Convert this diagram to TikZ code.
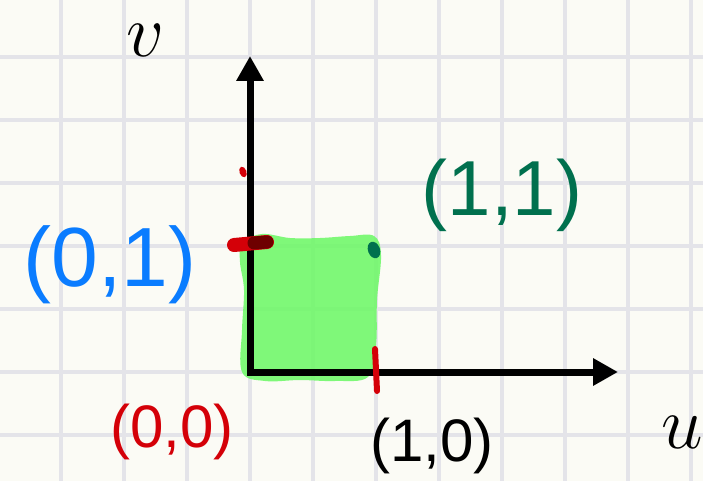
\documentclass[tikz,border=0pt]{standalone}
\usepackage{fontspec}
\usetikzlibrary{arrows.meta}
\newfontfamily\handfont{Liberation Sans}
\definecolor{paper}{HTML}{FBFBF5}
\definecolor{gridc}{HTML}{E4E4E9}
\definecolor{blobc}{RGB}{106,248,100}
\definecolor{hblue}{HTML}{0A7CFF}
\definecolor{hred}{HTML}{D40008}
\definecolor{hdred}{HTML}{6E0000}
\definecolor{hgreen}{HTML}{00704E}
\tikzset{
  gridline/.style={draw=gridc, line width=3.2pt},
  axisline/.style={line width=7pt, line join=miter, {Triangle[width=26pt,length=25pt]}-{Triangle[width=26pt,length=25pt]}},
  hand/.style={font=\handfont\fontsize{#1}{#1}\selectfont, inner sep=0pt},
  axlabel/.style={font=\fontsize{24.88}{30}\selectfont, scale=3.0, inner sep=0pt},
  penstroke/.style={line cap=round},
}
\begin{document}
\begin{tikzpicture}[x=1pt,y=-1pt]
\useasboundingbox (0,0) rectangle (703,481);
\fill[paper] (0,0) rectangle (703,481);
% grid
\foreach \k in {-4,...,7} \draw[gridline] ({250+63*\k},0) -- ({250+63*\k},481);
\foreach \k in {-6,...,2} \draw[gridline] (0,{372+63*\k}) -- (703,{372+63*\k});
% green blob
\fill[blobc, fill opacity=0.85] plot[smooth cycle, tension=0.6] coordinates {
 (242,243) (262,234) (290,238) (320,238) (350,236) (374,236) (381,255)
 (377,300) (376,345) (368,377) (335,381) (300,380) (265,381) (242,372)
 (242,330) (244,290) (240,262)};
% axes
\coordinate (O) at (250,372);
\coordinate (vtop) at (250,56);
\coordinate (uend) at (618,372);
\draw[axisline] (vtop) -- (O) -- (uend);
% red marks
\coordinate (m1a) at (234,245);
\coordinate (m1b) at (267,242);
\coordinate (m1c) at (254,243);
\draw[penstroke, hred, line width=14pt] (m1a) -- (m1b);
\draw[penstroke, hdred, line width=13pt] (m1c) -- (m1b);
\coordinate (t1a) at (375,349);
\coordinate (t1b) at (377,391);
\draw[penstroke, hred, line width=6pt] (t1a) -- (t1b);
\fill[hred, rotate around={-70:(243,172)}] (243,172) ellipse (5.5 and 3.5);
% green dot
\fill[hgreen, rotate around={20:(374,250)}] (374,250) ellipse (6 and 8.5);
% labels
\node[axlabel] (v) at (146,40) {$v$};
\node[axlabel] (u) at (682,432) {$u$};
\node[hand=84, hblue] (p01) at (110,265) {(0,1)};
\node[hand=60, hred] (p00) at (172,432) {(0,0)};
\node[hand=78, hgreen] (p11) at (502,195) {(1,1)};
\node[hand=60, black] (p10) at (432,446) {(1,0)};
\end{tikzpicture}
\end{document}
